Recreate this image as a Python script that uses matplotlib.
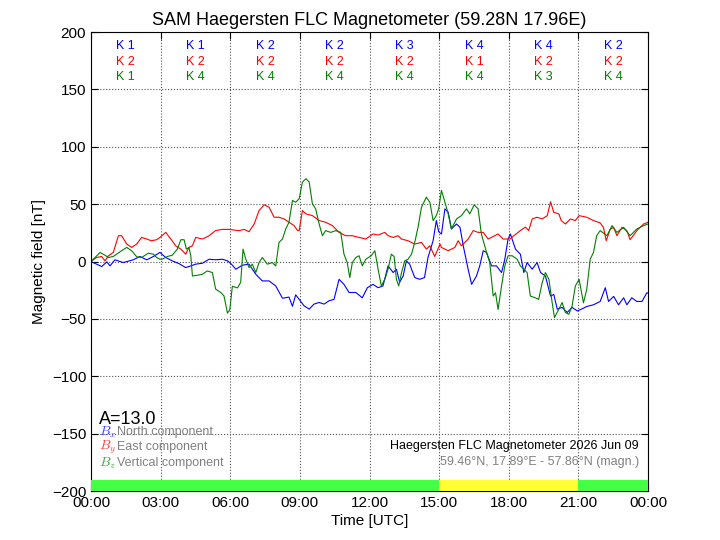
import numpy as np
import matplotlib
matplotlib.use("Agg")
import matplotlib.pyplot as plt

plt.rcParams['font.family'] = ['Liberation Sans', 'DejaVu Sans']
plt.rcParams['mathtext.fontset'] = 'cm'

# hours (UTC) and field values [nT]
bx_t = [0, 0.24, 0.46, 0.68, 0.82, 1.03, 1.39, 1.82, 2.11, 2.4, 2.69, 2.97,
        3.22, 3.5, 3.79, 4.08, 4.3, 4.51, 4.8, 5.09, 5.37, 5.66, 5.88,
        6.05, 6.24, 6.52, 6.81, 7.1, 7.38, 7.67, 7.96, 8.25, 8.53, 8.68, 8.82, 8.97,
        9.18, 9.4, 9.61, 9.83, 10.04, 10.26, 10.47, 10.69, 10.9, 11.12, 11.41, 11.69, 11.91,
        12.15, 12.37, 12.58, 12.8, 13.02, 13.16, 13.3, 13.45, 13.59, 13.73, 13.95, 14.16,
        14.37, 14.52, 14.74, 14.88, 14.98,
        15.1, 15.25, 15.39, 15.53, 15.75, 15.9, 16.04, 16.25, 16.4, 16.61, 16.75, 16.9,
        17.04, 17.26, 17.47, 17.69, 17.83, 17.97,
        18.07, 18.29, 18.5, 18.65, 18.79, 19.01, 19.22, 19.37, 19.58, 19.8, 19.94, 20.09,
        20.3, 20.52, 20.73, 20.95, 21.08, 21.36, 21.65, 21.94, 22.16, 22.3, 22.52, 22.73,
        22.95, 23.09, 23.3, 23.52, 23.74, 23.95, 24.0]
bx_v = [0, -2.3, -4.4, -0.3, -3.8, 1.5, -0.9, 1.5, 4.4, 1.5, 4.4, 7.9,
        3.5, 0.6, -1.8, -5.3, -3.8, -2.3, -1.5, 2, 1.5, 2, 0.6,
        -2.3, -6.7, -3.2, -2.3, -11.1, -16.9, -16.9, -21.3, -32, -31, -39, -29, -33,
        -38.6, -41.5, -37.1, -35.7, -37.1, -34.2, -33, -15.5, -19.9, -27, -27, -31.6, -22.8,
        -19.9, -22.8, -21.3, -3.8, -9.6, -6.7, -18.1, -12.6, 0.6, -2.3, -14, -15.5,
        -14, 3.5, 18.1, 35.7, 26,
        23.9, 45.9, 43, 28.4, 32.7, 29.8, 13.7, -6.7, -19.9, -12.6, -3.8, 9.4,
        7.9, -3.8, -3.8, -9.6, 2, 19.6,
        24, 10.8, 6.4, -9.6, -0.9, -6.7, -0.9, -9.6, -12.6, -30.1, -28.7, -41.5,
        -40, -44.4, -40, -43, -42, -39.2, -37.7, -34.8, -22.8, -34.8, -30.4, -37.7,
        -31.6, -37.7, -31.6, -34.8, -34.8, -27.2, -27.5]

by_t = [0, 0.24, 0.46, 0.6, 0.75, 0.96, 1.18, 1.32, 1.54, 1.75, 1.97, 2.18, 2.4, 2.6, 2.83, 2.97,
        3.22, 3.44, 3.65, 3.87, 4.08, 4.22, 4.37, 4.51, 4.8, 5.09, 5.37, 5.66, 5.95,
        6.38, 6.6, 6.81, 7.03, 7.24, 7.46, 7.67, 7.89, 8.1, 8.32, 8.53, 8.75, 8.9, 8.97,
        9.11, 9.26, 9.54, 9.83, 10.11, 10.4, 10.69, 10.97, 11.26, 11.55, 11.84,
        12.15, 12.37, 12.66, 12.8, 13.02, 13.23, 13.38, 13.66, 13.95, 14.24, 14.45, 14.6,
        14.81, 15.04, 15.1, 15.39, 15.68, 15.82, 15.96, 16.25, 16.47, 16.68, 16.9, 17.11,
        17.4, 17.54, 17.76, 18.06, 18.22, 18.5, 18.72, 18.86, 19.01, 19.22, 19.44, 19.66,
        19.8, 19.94, 20.16, 20.26, 20.44, 20.66, 20.87, 21.03, 21.36, 21.65, 21.94, 22.08,
        22.2, 22.37, 22.52, 22.66, 22.88, 23.09, 23.23, 23.52, 23.81, 24.0]
by_v = [0, 3.5, 4.4, 0.6, 5, 7.9, 22.5, 22.5, 15.2, 12.3, 15.2, 21, 19.6, 18.1, 19, 21,
        25.4, 19.6, 13.7, 10.8, 6.4, 12.3, 13.7, 21, 19.6, 22.5, 27, 28, 28,
        26.9, 28, 26, 32.7, 44.4, 49.4, 47.4, 38.6, 38.6, 37.1, 34.2, 31.3, 27, 27,
        44.4, 41.5, 40, 35.7, 34.2, 31.3, 25.4, 22.5, 22.5, 21, 19.6,
        24, 23.1, 25.4, 22.5, 21, 22.5, 19.6, 18.1, 15.2, 16.7, 10.8, 13.7,
        4.4, 15.2, 12.3, 9.4, 12.3, 18.1, 13.7, 19.6, 27, 25.4, 25.4, 19.6,
        22.5, 24, 19.6, 19.6, 22.5, 27, 30, 27, 37.1, 38.6, 37.1, 40,
        52, 42.9, 41.5, 35.7, 32.7, 37.1, 35.7, 40, 38.6, 35.7, 33.6, 29.8,
        18.1, 28, 29.8, 22.5, 29.8, 26.9, 19, 26.9, 32.7, 34.2]

bz_t = [0, 0.39, 0.6, 0.75, 0.96, 1.25, 1.54, 1.75, 1.97, 2.18, 2.47, 2.69, 2.83, 2.97,
        3.07, 3.29, 3.5, 3.72, 3.87, 4.01, 4.11, 4.22, 4.3, 4.37, 4.58, 4.8, 5.01, 5.23,
        5.37, 5.59, 5.73, 5.88, 5.98, 6.09, 6.31, 6.45, 6.55, 6.67, 6.81, 6.95, 7.1, 7.24,
        7.38, 7.6, 7.81, 7.96, 8.1, 8.25, 8.39, 8.53, 8.68, 8.82, 8.97,
        9.11, 9.26, 9.4, 9.54, 9.68, 9.83, 9.97, 10.11, 10.33, 10.54, 10.76, 10.9, 11.04,
        11.15, 11.26, 11.41, 11.55, 11.69, 11.84, 12.07, 12.23, 12.37, 12.51, 12.66, 12.8,
        12.94, 13.06, 13.16, 13.26, 13.38, 13.52, 13.66, 13.81, 13.95, 14.09, 14.24, 14.45,
        14.6, 14.74, 14.88, 14.98, 15.1, 15.25, 15.39, 15.53, 15.75, 15.96, 16.18, 16.32,
        16.51, 16.68, 16.82, 17.04, 17.18, 17.33, 17.43, 17.54, 17.69, 17.83, 17.97,
        18.15, 18.36, 18.5, 18.65, 18.79, 18.93, 19.15, 19.29, 19.44, 19.58, 19.73, 19.87,
        19.97, 20.16, 20.3, 20.44, 20.59, 20.73, 20.87, 21.03, 21.22, 21.36, 21.51, 21.65,
        21.79, 21.94, 22.23, 22.45, 22.66, 22.95, 23.23, 23.52, 23.81, 24.0]
bz_v = [0, 7.9, 5.5, 3.5, 4.4, 8.5, 12.3, 9.4, 4.1, 3.5, 7.3, 6.4, 3.5, 2,
        2, 4.4, 5.5, 10.8, 19, 19, 10.8, 12.3, 5, -12.6, -12, -11.1, -8.2, -9.6,
        -24, -27, -30, -45, -42, -21.6, -23, -18.1, 10.8, 2, -5.3, -2.3, -9.6, -0.9,
        3.5, -2.3, -0.9, -3.8, 16.7, 19.6, 28.4, 34.2, 53.2, 51.7, 54.7,
        69.3, 72.2, 69.3, 50.3, 45.9, 32.7, 22.5, 26.9, 25.4, 26.9, 25.4, 6.4, -0.9,
        -14, -0.9, 3.5, 5, -3.8, 2, 5, 9.4, -6.7, -21.3, -15.5, -6.7,
        6.4, 4.4, -15.5, -21.3, -9.6, 0.6, 2, 6.4, 16.7, 29.8, 47.4, 56.1,
        51.7, 35.7, 40, 45.9, 62, 51.7, 41.5, 28.4, 37.1, 40, 45.9, 41.5,
        49.4, 45.9, 24, 8.2, -0.9, -30.1, -27.2, -41.8, -21.3, -3.8, 5,
        5, 2, -3.8, -6.7, -9.6, -30.1, -31.6, -33, -18.4, -9.6, -15.5, -35.7,
        -48.8, -41.5, -35.7, -44.4, -46, -38.6, -21.3, -15.5, -36, -24.3, 2, 7.9,
        22.5, 26.9, 22.5, 31.3, 25.4, 29.8, 22.5, 28.4, 31.3, 32.7]

# K indices per 3-hour block
k_x = [1, 1, 2, 2, 3, 4, 4, 2]
k_y = [2, 2, 2, 2, 2, 1, 2, 2]
k_z = [1, 4, 4, 4, 4, 4, 3, 4]

# activity bar segments (start hour, end hour, colour)
bar_start = [0, 15, 21]
bar_end = [15, 21, 24]
bar_col = ['#44ff44', '#ffff33', '#44ff44']

fig = plt.figure(figsize=(7.2, 5.4), dpi=100)
ax = fig.add_axes([0.1264, 0.0907, 0.7736, 0.85])

ax.plot(bx_t, bx_v, color='blue', lw=0.8)
ax.plot(by_t, by_v, color='red', lw=0.8)
ax.plot(bz_t, bz_v, color='green', lw=0.8)

for s, e, c in zip(bar_start, bar_end, bar_col):
    ax.fill_between([s, e], -200, -190.5, color=c, lw=0, zorder=3)

for i in range(8):
    xc = i * 3 + 1.5
    ax.text(xc, 188, 'K %d' % k_x[i], color='blue', ha='center', va='center', fontsize=9)
    ax.text(xc, 174, 'K %d' % k_y[i], color='red', ha='center', va='center', fontsize=9)
    ax.text(xc, 161, 'K %d' % k_z[i], color='green', ha='center', va='center', fontsize=9)

ax.text(0.35, -138, 'A=13.0', fontsize=13, va='center', ha='left')
leg = [('$B_x$', '#4444ff', 'North component', -149),
       ('$B_y$', '#ff4444', 'East component', -162),
       ('$B_z$', '#44aa44', 'Vertical component', -176)]
for sym, col, lab, yy in leg:
    ax.text(0.35, yy, sym, color=col, fontsize=10, va='center', ha='left')
    ax.text(1.1, yy, lab, color='gray', fontsize=9, va='center', ha='left')

ax.text(23.6, -161, 'Haegersten FLC Magnetometer 2026 Jun 09', fontsize=9,
        ha='right', va='center')
ax.text(23.6, -175, '59.46°N, 17.89°E - 57.86°N (magn.)', fontsize=9,
        color='gray', ha='right', va='center')

ax.set_xlim(0, 24)
ax.set_ylim(-200, 200)
ax.set_xticks(range(0, 25, 3))
ax.set_xticklabels(['%02d:00' % (h % 24) for h in range(0, 25, 3)])
ax.set_yticks(range(-200, 201, 50))
ax.tick_params(direction='in', top=True, right=True, labelsize=11, length=5)
ax.grid(True, linestyle=':', color='#555555', lw=0.8)
ax.set_axisbelow(True)
ax.set_title('SAM Haegersten FLC Magnetometer (59.28N 17.96E)', fontsize=13, pad=5)
ax.set_ylabel('Magnetic field [nT]', fontsize=11)
ax.set_xlabel('Time [UTC]', fontsize=11, labelpad=3)

fig.savefig('out.png', dpi=100)
